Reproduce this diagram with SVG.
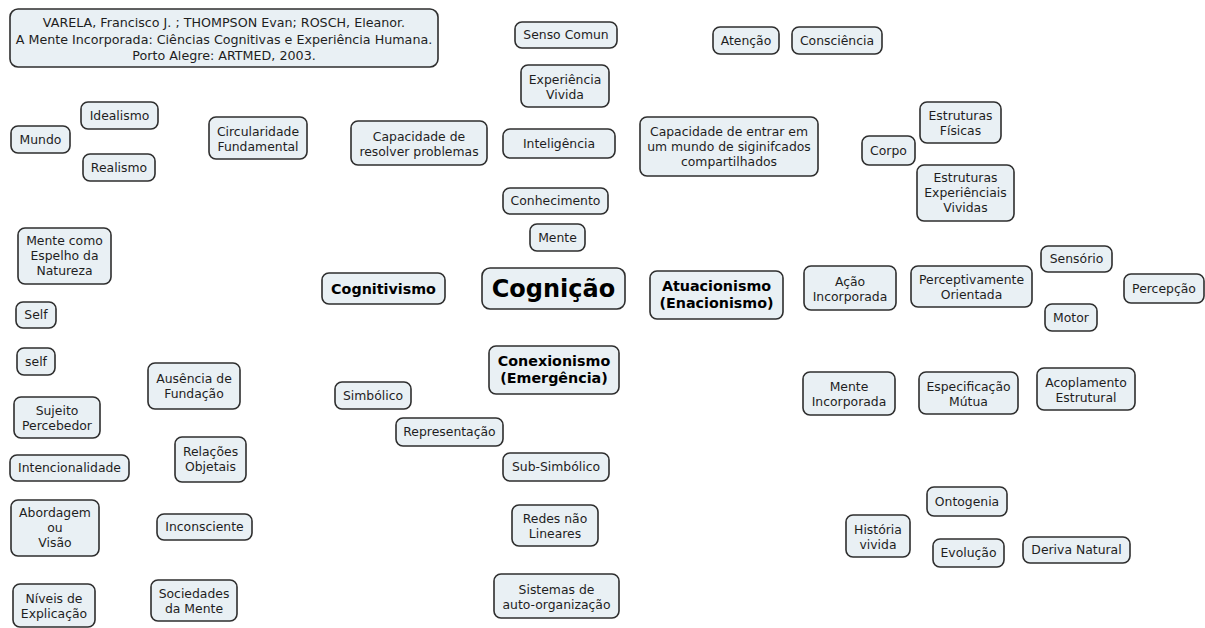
<svg xmlns="http://www.w3.org/2000/svg" width="1205" height="628" viewBox="0 0 1205 628">
  <style>
    .box { fill: #e9f0f4; stroke: #2e2e2e; stroke-width: 1.6; }
    .t { font-family: "DejaVu Sans", Verdana, "Liberation Sans", sans-serif; font-size: 12.4px; fill: #1e1e1e; text-anchor: middle; }
    .cit { font-size: 12.7px; }
    .h { font-weight: bold; font-size: 14.3px; fill: #000; }
    .big { font-weight: bold; font-size: 24px; fill: #000; }
  </style>
  <rect width="1205" height="628" fill="#ffffff"/>

  <!-- no links between concepts -->
  <g id="connectors"/>

  <g id="referencia">
    <rect class="box" x="10" y="9" width="428" height="58" rx="8"/>
    <text class="t cit" x="224" y="26.5">VARELA, Francisco J. ; THOMPSON Evan; ROSCH, Eleanor.</text>
    <text class="t cit" x="224" y="43.5">A Mente Incorporada: Ciências Cognitivas e Experiência Humana.</text>
    <text class="t cit" x="224" y="59.5">Porto Alegre: ARTMED, 2003.</text>
  </g>

  <g id="senso-comun">
    <rect class="box" x="515" y="22" width="102" height="26" rx="7"/>
    <text class="t" x="566" y="39.3">Senso Comun</text>
  </g>
  <g id="atencao">
    <rect class="box" x="713" y="27" width="66" height="27" rx="7"/>
    <text class="t" x="746" y="44.8">Atenção</text>
  </g>
  <g id="consciencia">
    <rect class="box" x="792" y="27" width="90" height="27" rx="7"/>
    <text class="t" x="837" y="44.8">Consciência</text>
  </g>
  <g id="experiencia-vivida">
    <rect class="box" x="521" y="65" width="88" height="42" rx="7"/>
    <text class="t" x="565" y="83.8">Experiência</text>
    <text class="t" x="565" y="98.8">Vivida</text>
  </g>
  <g id="capacidade-resolver">
    <rect class="box" x="351" y="121" width="136" height="44" rx="7"/>
    <text class="t" x="419" y="140.8">Capacidade de</text>
    <text class="t" x="419" y="155.8">resolver problemas</text>
  </g>
  <g id="inteligencia">
    <rect class="box" x="503" y="129" width="112" height="29" rx="7"/>
    <text class="t" x="559" y="147.8">Inteligência</text>
  </g>
  <g id="capacidade-entrar">
    <rect class="box" x="640" y="117" width="178" height="59" rx="7"/>
    <text class="t" x="729" y="135.8">Capacidade de entrar em</text>
    <text class="t" x="729" y="150.8">um mundo de siginifcados</text>
    <text class="t" x="729" y="165.8">compartilhados</text>
  </g>
  <g id="conhecimento">
    <rect class="box" x="503" y="188" width="105" height="26" rx="7"/>
    <text class="t" x="555.5" y="205.3">Conhecimento</text>
  </g>
  <g id="mente">
    <rect class="box" x="530" y="224" width="55" height="27" rx="7"/>
    <text class="t" x="557.5" y="241.8">Mente</text>
  </g>

  <g id="cognitivismo">
    <rect class="box" x="322" y="273" width="123" height="31" rx="7"/>
    <text class="t h" x="383.5" y="293.5">Cognitivismo</text>
  </g>
  <g id="cognicao">
    <rect class="box" x="482" y="268" width="143" height="41" rx="8"/>
    <text class="t big" x="553.5" y="297">Cognição</text>
  </g>
  <g id="atuacionismo">
    <rect class="box" x="650" y="271" width="133" height="48" rx="7"/>
    <text class="t h" x="716.5" y="291">Atuacionismo</text>
    <text class="t h" x="716.5" y="308">(Enacionismo)</text>
  </g>
  <g id="conexionismo">
    <rect class="box" x="489" y="346" width="130" height="48" rx="7"/>
    <text class="t h" x="554" y="366">Conexionismo</text>
    <text class="t h" x="554" y="383">(Emergência)</text>
  </g>

  <g id="acao-incorporada">
    <rect class="box" x="804" y="266" width="92" height="44" rx="7"/>
    <text class="t" x="850" y="285.8">Ação</text>
    <text class="t" x="850" y="300.8">Incorporada</text>
  </g>
  <g id="perceptivamente-orientada">
    <rect class="box" x="911" y="266" width="121" height="41" rx="7"/>
    <text class="t" x="971.5" y="284.3">Perceptivamente</text>
    <text class="t" x="971.5" y="299.3">Orientada</text>
  </g>
  <g id="sensorio">
    <rect class="box" x="1041" y="246" width="71" height="26" rx="7"/>
    <text class="t" x="1076.5" y="263.3">Sensório</text>
  </g>
  <g id="percepcao">
    <rect class="box" x="1124" y="274" width="80" height="29" rx="7"/>
    <text class="t" x="1164" y="292.8">Percepção</text>
  </g>
  <g id="motor">
    <rect class="box" x="1045" y="304" width="52" height="27" rx="7"/>
    <text class="t" x="1071" y="321.8">Motor</text>
  </g>
  <g id="mente-incorporada">
    <rect class="box" x="803" y="372" width="92" height="43" rx="7"/>
    <text class="t" x="849" y="391.3">Mente</text>
    <text class="t" x="849" y="406.3">Incorporada</text>
  </g>
  <g id="especificacao-mutua">
    <rect class="box" x="919" y="372" width="99" height="42" rx="7"/>
    <text class="t" x="968.5" y="390.8">Especificação</text>
    <text class="t" x="968.5" y="405.8">Mútua</text>
  </g>
  <g id="acoplamento-estrutural">
    <rect class="box" x="1037" y="368" width="98" height="42" rx="7"/>
    <text class="t" x="1086" y="386.8">Acoplamento</text>
    <text class="t" x="1086" y="401.8">Estrutural</text>
  </g>
  <g id="estruturas-fisicas">
    <rect class="box" x="920" y="102" width="81" height="41" rx="7"/>
    <text class="t" x="960.5" y="120.3">Estruturas</text>
    <text class="t" x="960.5" y="135.3">Físicas</text>
  </g>
  <g id="corpo">
    <rect class="box" x="862" y="136" width="53" height="29" rx="7"/>
    <text class="t" x="888.5" y="154.8">Corpo</text>
  </g>
  <g id="estruturas-experienciais">
    <rect class="box" x="917" y="165" width="97" height="56" rx="7"/>
    <text class="t" x="965.5" y="182.3">Estruturas</text>
    <text class="t" x="965.5" y="197.3">Experiênciais</text>
    <text class="t" x="965.5" y="212.3">Vividas</text>
  </g>

  <g id="mundo">
    <rect class="box" x="11" y="126" width="59" height="27" rx="7"/>
    <text class="t" x="40.5" y="143.8">Mundo</text>
  </g>
  <g id="idealismo">
    <rect class="box" x="81" y="102" width="77" height="27" rx="7"/>
    <text class="t" x="119.5" y="119.8">Idealismo</text>
  </g>
  <g id="realismo">
    <rect class="box" x="83" y="154" width="72" height="27" rx="7"/>
    <text class="t" x="119" y="171.8">Realismo</text>
  </g>
  <g id="circularidade">
    <rect class="box" x="209" y="117" width="98" height="42" rx="7"/>
    <text class="t" x="258" y="135.8">Circularidade</text>
    <text class="t" x="258" y="150.8">Fundamental</text>
  </g>
  <g id="mente-espelho">
    <rect class="box" x="18" y="228" width="93" height="56" rx="7"/>
    <text class="t" x="64.5" y="245.3">Mente como</text>
    <text class="t" x="64.5" y="260.3">Espelho da</text>
    <text class="t" x="64.5" y="275.3">Natureza</text>
  </g>
  <g id="self-maiusculo">
    <rect class="box" x="16" y="302" width="40" height="26" rx="7"/>
    <text class="t" x="36" y="319.3">Self</text>
  </g>
  <g id="self-minusculo">
    <rect class="box" x="17" y="348" width="38" height="27" rx="7"/>
    <text class="t" x="36" y="365.8">self</text>
  </g>
  <g id="sujeito-percebedor">
    <rect class="box" x="14" y="397" width="86" height="41" rx="7"/>
    <text class="t" x="57" y="415.3">Sujeito</text>
    <text class="t" x="57" y="430.3">Percebedor</text>
  </g>
  <g id="ausencia-fundacao">
    <rect class="box" x="148" y="363" width="92" height="46" rx="7"/>
    <text class="t" x="194" y="383.3">Ausência de</text>
    <text class="t" x="194" y="398.3">Fundação</text>
  </g>
  <g id="simbolico">
    <rect class="box" x="335" y="382" width="76" height="27" rx="7"/>
    <text class="t" x="373" y="399.8">Simbólico</text>
  </g>
  <g id="representacao">
    <rect class="box" x="396" y="418" width="107" height="28" rx="7"/>
    <text class="t" x="449.5" y="436.3">Representação</text>
  </g>
  <g id="intencionalidade">
    <rect class="box" x="10" y="455" width="119" height="26" rx="7"/>
    <text class="t" x="69.5" y="472.3">Intencionalidade</text>
  </g>
  <g id="relacoes-objetais">
    <rect class="box" x="175" y="437" width="71" height="45" rx="7"/>
    <text class="t" x="210.5" y="456.3">Relações</text>
    <text class="t" x="210.5" y="471.3">Objetais</text>
  </g>
  <g id="abordagem">
    <rect class="box" x="11" y="500" width="88" height="56" rx="7"/>
    <text class="t" x="55" y="517.3">Abordagem</text>
    <text class="t" x="55" y="532.3">ou</text>
    <text class="t" x="55" y="547.3">Visão</text>
  </g>
  <g id="inconsciente">
    <rect class="box" x="157" y="514" width="95" height="26" rx="7"/>
    <text class="t" x="204.5" y="531.3">Inconsciente</text>
  </g>
  <g id="niveis-explicacao">
    <rect class="box" x="13" y="584" width="82" height="43" rx="7"/>
    <text class="t" x="54" y="603.3">Níveis de</text>
    <text class="t" x="54" y="618.3">Explicação</text>
  </g>
  <g id="sociedades-mente">
    <rect class="box" x="151" y="580" width="86" height="41" rx="7"/>
    <text class="t" x="194" y="598.3">Sociedades</text>
    <text class="t" x="194" y="613.3">da Mente</text>
  </g>
  <g id="sub-simbolico">
    <rect class="box" x="503" y="453" width="106" height="28" rx="7"/>
    <text class="t" x="556" y="471.3">Sub-Simbólico</text>
  </g>
  <g id="redes-nao-lineares">
    <rect class="box" x="512" y="505" width="86" height="41" rx="7"/>
    <text class="t" x="555" y="523.3">Redes não</text>
    <text class="t" x="555" y="538.3">Lineares</text>
  </g>
  <g id="sistemas-auto-organizacao">
    <rect class="box" x="494" y="574" width="125" height="44" rx="7"/>
    <text class="t" x="556.5" y="593.8">Sistemas de</text>
    <text class="t" x="556.5" y="608.8">auto-organização</text>
  </g>

  <g id="historia-vivida">
    <rect class="box" x="846" y="515" width="64" height="42" rx="7"/>
    <text class="t" x="878" y="533.8">História</text>
    <text class="t" x="878" y="548.8">vivida</text>
  </g>
  <g id="ontogenia">
    <rect class="box" x="927" y="487" width="80" height="29" rx="7"/>
    <text class="t" x="967" y="505.8">Ontogenia</text>
  </g>
  <g id="evolucao">
    <rect class="box" x="933" y="539" width="71" height="28" rx="7"/>
    <text class="t" x="968.5" y="557.3">Evolução</text>
  </g>
  <g id="deriva-natural">
    <rect class="box" x="1023" y="537" width="107" height="26" rx="7"/>
    <text class="t" x="1076.5" y="554.3">Deriva Natural</text>
  </g>
</svg>
